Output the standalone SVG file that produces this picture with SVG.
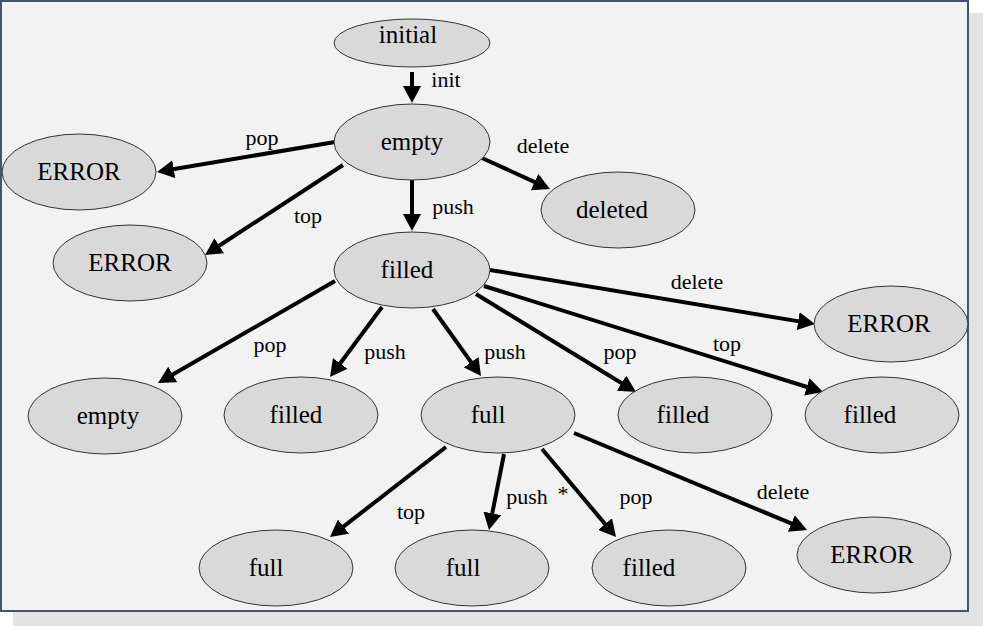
<svg xmlns="http://www.w3.org/2000/svg" width="983" height="626" viewBox="0 0 983 626" font-family="'Liberation Serif', 'DejaVu Serif', serif">
<defs>
<marker id="ah" markerUnits="userSpaceOnUse" markerWidth="18" markerHeight="18" refX="7" refY="9" orient="auto"><path d="M0,0 L17,9 L0,18 z" fill="#000"/></marker>
<style>
.n ellipse{fill:#d9d9d9;stroke:#333;stroke-width:1}
.n text{font-size:25px;text-anchor:middle;fill:#000}
.e line{stroke:#000;stroke-width:4;marker-end:url(#ah)}
.e text{font-size:22px;text-anchor:middle;fill:#000}
</style>
</defs>
<rect x="13" y="13" width="970" height="613" fill="#e3e3e3"/>
<rect x="1" y="1" width="967" height="610" fill="#f2f2f2" stroke="#44546a" stroke-width="2"/>
<g id="edges" class="e">
<line x1="412" y1="72" x2="412" y2="93"/><text x="446" y="87">init</text>
<line x1="335" y1="142" x2="166.9" y2="170.3"/><text x="262" y="145">pop</text>
<line x1="343" y1="165" x2="213.4" y2="249.5"/><text x="308" y="223">top</text>
<line x1="412" y1="180" x2="412" y2="221"/><text x="453" y="214">push</text>
<line x1="482" y1="158" x2="540.9" y2="184.9"/><text x="543" y="153">delete</text>
<line x1="490" y1="270" x2="805.1" y2="322.4"/><text x="697" y="289">delete</text>
<line x1="335" y1="281" x2="166.7" y2="378"/><text x="270" y="352">pop</text>
<line x1="382" y1="307" x2="336" y2="369"/><text x="385" y="359">push</text>
<line x1="433" y1="309" x2="475.2" y2="367.9"/><text x="505" y="359">push</text>
<line x1="476" y1="294" x2="627.5" y2="386.8"/><text x="620" y="359">pop</text>
<line x1="484" y1="286" x2="813.5" y2="389"/><text x="727" y="351">top</text>
<line x1="446" y1="447" x2="337.9" y2="530.9"/><text x="411" y="519">top</text>
<line x1="504" y1="454" x2="490.9" y2="520.2"/><text x="527" y="504">push</text><text x="563" y="501">*</text>
<line x1="542" y1="449" x2="609.6" y2="529.4"/><text x="636" y="504">pop</text>
<line x1="574" y1="433" x2="797.8" y2="526.2"/><text x="783" y="499">delete</text>
</g>
<g id="n-initial" class="n"><ellipse cx="412" cy="43" rx="78" ry="24"/><text x="408" y="43">initial</text></g>
<g id="n-empty" class="n"><ellipse cx="412" cy="142" rx="78" ry="38"/><text x="412" y="150">empty</text></g>
<g id="n-error1" class="n"><ellipse cx="79" cy="172" rx="77" ry="38"/><text x="79" y="180">ERROR</text></g>
<g id="n-error2" class="n"><ellipse cx="130" cy="263" rx="77" ry="38"/><text x="130" y="271">ERROR</text></g>
<g id="n-deleted" class="n"><ellipse cx="618" cy="210" rx="77" ry="38"/><text x="612" y="218">deleted</text></g>
<g id="n-filled" class="n"><ellipse cx="412" cy="270" rx="78" ry="38"/><text x="407" y="278">filled</text></g>
<g id="n-error3" class="n"><ellipse cx="891" cy="324" rx="77" ry="38"/><text x="889" y="332">ERROR</text></g>
<g id="n-empty2" class="n"><ellipse cx="105" cy="416" rx="77" ry="38"/><text x="108" y="424">empty</text></g>
<g id="n-filled2" class="n"><ellipse cx="301" cy="415" rx="77" ry="38"/><text x="296" y="423">filled</text></g>
<g id="n-full" class="n"><ellipse cx="498" cy="415" rx="77" ry="38"/><text x="488" y="423">full</text></g>
<g id="n-filled3" class="n"><ellipse cx="695" cy="415" rx="77" ry="38"/><text x="683" y="423">filled</text></g>
<g id="n-filled4" class="n"><ellipse cx="882" cy="415" rx="77" ry="38"/><text x="870" y="423">filled</text></g>
<g id="n-full2" class="n"><ellipse cx="276" cy="568" rx="77" ry="38"/><text x="266" y="576">full</text></g>
<g id="n-full3" class="n"><ellipse cx="472" cy="568" rx="77" ry="38"/><text x="463" y="576">full</text></g>
<g id="n-filled5" class="n"><ellipse cx="669" cy="568" rx="77" ry="38"/><text x="649" y="576">filled</text></g>
<g id="n-error4" class="n"><ellipse cx="874" cy="555" rx="77" ry="38"/><text x="872" y="563">ERROR</text></g>
</svg>
